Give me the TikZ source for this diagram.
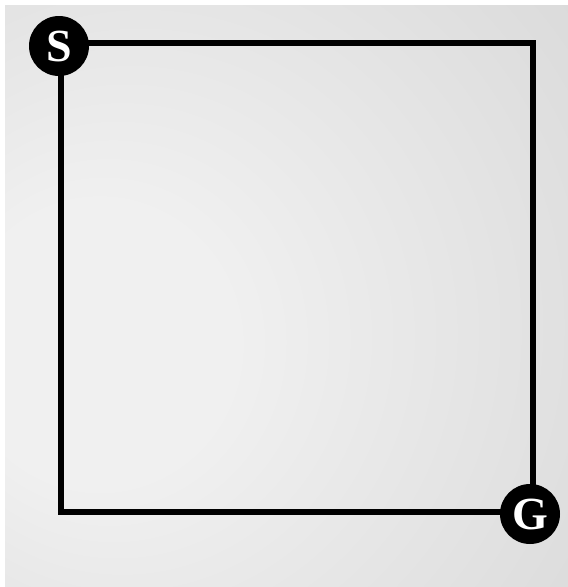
\documentclass[tikz,border=0pt]{standalone}
\usepackage{fontspec}
\setmainfont{Liberation Serif}
\definecolor{bgin}{RGB}{240,240,240}
\definecolor{bgmid}{RGB}{218,218,218}
\definecolor{bgout}{RGB}{198,198,198}
\pgfdeclareradialshading{bgshade}{\pgfpoint{-20bp}{-5bp}}{%
  color(0bp)=(bgin); color(12bp)=(bgin); color(45bp)=(bgmid); color(75bp)=(bgout)}
\tikzset{
  edge/.style={line width=5.5pt, black, line join=miter},
  endpt/.style={circle, fill=black, minimum size=60pt, inner sep=0pt,
    text=white, font=\fontsize{46}{46}\selectfont\bfseries}
}
\begin{document}
\begin{tikzpicture}[x=1pt,y=-1pt]
\useasboundingbox (0,0) rectangle (568,587);
\fill[white] (0,0) rectangle (568,587);
\shade[shading=bgshade] (5,5) rectangle (568,587);
\coordinate (tl) at (61,43);
\coordinate (tr) at (533,43);
\coordinate (br) at (533,512);
\coordinate (bl) at (61,512);
\draw[edge] (tl) -- (tr) -- (br) -- (bl) -- cycle;
\node[endpt] (S) at (59,46) {S};
\node[endpt] (G) at (530,514) {G};
\end{tikzpicture}
\end{document}
